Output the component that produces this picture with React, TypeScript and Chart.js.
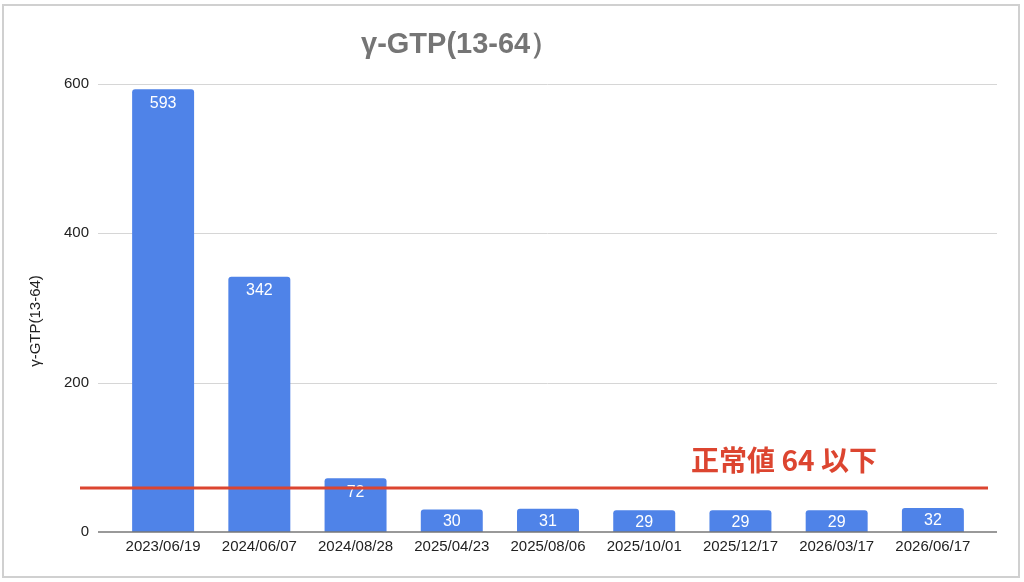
import React, { useEffect, useRef } from "react";
import { Chart, registerables } from "chart.js";

Chart.register(...registerables);

const categories = [
  "2023/06/19",
  "2024/06/07",
  "2024/08/28",
  "2025/04/23",
  "2025/08/06",
  "2025/10/01",
  "2025/12/17",
  "2026/03/17",
  "2026/06/17",
];
const gtpValues = [593, 342, 72, 30, 31, 29, 29, 29, 32];
const yTickValues = [0, 200, 400, 600];
const chartTitle = "γ-GTP(13-64）";
const yAxisTitle = "γ-GTP(13-64)";
const limitLineValue = 59;
const limitLabel = "正常値 64 以下";

const FONT = "'Liberation Sans', Arial, Helvetica, sans-serif";
const BAR_COLOR = "#4f83e8";
const RED = "#dc4530";

export default function App() {
  const ref = useRef<HTMLCanvasElement>(null);

  useEffect(() => {
    document.body.style.margin = "0";
    const canvas = ref.current;
    if (!canvas) return;

    const overlay = {
      id: "overlay",
      beforeDatasetsDraw(chart: any) {
        const { ctx, chartArea, scales } = chart;
        const y = scales.y;
        ctx.save();
        ctx.strokeStyle = "#d6d6d6";
        ctx.lineWidth = 1;
        yTickValues.forEach((v) => {
          if (v === 0) return;
          const py = Math.round(y.getPixelForValue(v)) + 0.5;
          ctx.beginPath();
          ctx.moveTo(chartArea.left - 17, py);
          ctx.lineTo(chartArea.right + 16, py);
          ctx.stroke();
        });
        ctx.restore();
      },
      afterDatasetsDraw(chart: any) {
        const { ctx, chartArea, scales } = chart;
        const y = scales.y;
        ctx.save();
        // baseline
        const py0 = y.getPixelForValue(0);
        ctx.strokeStyle = "#777777";
        ctx.lineWidth = 1.5;
        ctx.beginPath();
        ctx.moveTo(chartArea.left - 17, py0);
        ctx.lineTo(chartArea.right + 16, py0);
        ctx.stroke();

        // bar value labels
        const meta = chart.getDatasetMeta(0);
        ctx.fillStyle = "#ffffff";
        ctx.font = `16px ${FONT}`;
        ctx.textAlign = "center";
        ctx.textBaseline = "middle";
        meta.data.forEach((bar: any, i: number) => {
          const ly = Math.min(bar.y + 14, (bar.y + bar.base) / 2 + 1);
          ctx.fillText(String(gtpValues[i]), bar.x, ly);
        });

        // limit line
        const pl = y.getPixelForValue(limitLineValue);
        ctx.strokeStyle = RED;
        ctx.lineWidth = 3;
        ctx.beginPath();
        ctx.moveTo(chartArea.left - 35, pl);
        ctx.lineTo(chartArea.right + 7, pl);
        ctx.stroke();

        // limit label
        ctx.fillStyle = RED;
        ctx.font = `bold 28px 'Noto Sans CJK JP', ${FONT}`;
        ctx.textAlign = "center";
        ctx.textBaseline = "middle";
        ctx.fillText(limitLabel, 784, pl - 28);
        ctx.restore();
      },
      afterDraw(chart: any) {
        const { ctx, chartArea } = chart;
        ctx.save();
        // chart title
        ctx.fillStyle = "#757575";
        ctx.font = `bold 29px ${FONT}`;
        ctx.textAlign = "left";
        ctx.textBaseline = "alphabetic";
        ctx.fillText(chartTitle, 361, 53);

        // y axis title
        ctx.fillStyle = "#222222";
        ctx.font = `15px ${FONT}`;
        ctx.textAlign = "center";
        ctx.textBaseline = "middle";
        ctx.translate(36, (chartArea.top + chartArea.bottom) / 2 + 13);
        ctx.rotate(-Math.PI / 2);
        ctx.fillText(yAxisTitle, 0, 0);
        ctx.restore();

        // outer border
        ctx.save();
        ctx.strokeStyle = "#d0d0d0";
        ctx.lineWidth = 2;
        ctx.strokeRect(3, 5, 1016, 572);
        ctx.restore();
      },
    };

    const chart = new Chart(canvas, {
      type: "bar",
      data: {
        labels: categories,
        datasets: [
          {
            label: yAxisTitle,
            data: gtpValues,
            backgroundColor: BAR_COLOR,
            borderRadius: 3,
            categoryPercentage: 1,
            barPercentage: 0.644,
          },
        ],
      },
      options: {
        animation: false,
        responsive: true,
        maintainAspectRatio: false,
        layout: { padding: { left: 20, top: 84, right: 43, bottom: 10 } },
        plugins: {
          legend: { display: false },
          tooltip: { enabled: false },
          title: { display: false },
        },
        scales: {
          x: {
            grid: { display: false, drawTicks: false },
            border: { display: false },
            ticks: {
              color: "#222222",
              font: { family: FONT, size: 15 },
              padding: 6,
              maxRotation: 0,
              autoSkip: false,
            },
            afterFit(scale: any) {
              scale.height = 40;
            },
          },
          y: {
            min: 0,
            max: 600,
            grid: { display: false, drawTicks: false },
            border: { display: false },
            ticks: {
              color: "#222222",
              font: { family: FONT, size: 15 },
              padding: 26,
            },
            afterBuildTicks(scale: any) {
              scale.ticks = yTickValues.map((v) => ({ value: v }));
            },
            afterFit(scale: any) {
              scale.width = 95;
            },
          },
        },
      },
      plugins: [overlay],
    });

    return () => chart.destroy();
  }, []);

  return (
    <div style={{ position: "relative", width: 1024, height: 582 }}>
      <canvas ref={ref} />
    </div>
  );
}
